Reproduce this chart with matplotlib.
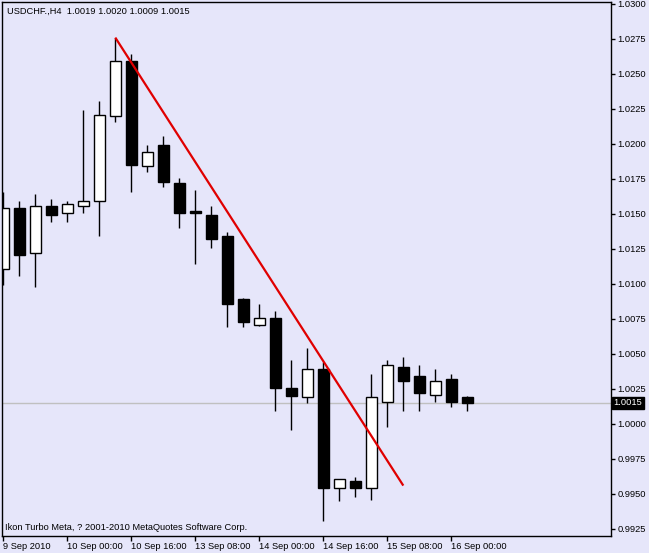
import matplotlib
matplotlib.use('Agg')
import matplotlib.pyplot as plt
import matplotlib.transforms as mtransforms
import numpy as np

# USDCHF H4 candles
opens  = [1.0111, 1.0154, 1.0122, 1.0156, 1.0151, 1.0156, 1.0159, 1.0220, 1.0259, 1.0184,
          1.0199, 1.0172, 1.0152, 1.0149, 1.0134, 1.0089, 1.0071, 1.0076, 1.0026, 1.0019,
          1.0039, 0.9954, 0.9959, 0.9954, 1.0016, 1.0041, 1.0034, 1.0021, 1.0032, 1.0019]
highs  = [1.0166, 1.0159, 1.0164, 1.0161, 1.0159, 1.0224, 1.0231, 1.0276, 1.0264, 1.0199,
          1.0206, 1.0176, 1.0167, 1.0156, 1.0137, 1.0090, 1.0086, 1.0081, 1.0046, 1.0054,
          1.0044, 0.9961, 0.9962, 1.0036, 1.0046, 1.0048, 1.0042, 1.0039, 1.0036, 1.0020]
lows   = [1.0099, 1.0106, 1.0098, 1.0144, 1.0144, 1.0151, 1.0134, 1.0216, 1.0166, 1.0180,
          1.0169, 1.0140, 1.0114, 1.0126, 1.0069, 1.0069, 1.0070, 1.0009, 0.9996, 1.0015,
          0.9931, 0.9945, 0.9948, 0.9946, 0.9998, 1.0009, 1.0009, 1.0016, 1.0012, 1.0009]
closes = [1.0154, 1.0121, 1.0156, 1.0149, 1.0157, 1.0159, 1.0221, 1.0259, 1.0185, 1.0194,
          1.0173, 1.0151, 1.0151, 1.0132, 1.0086, 1.0073, 1.0076, 1.0026, 1.0020, 1.0039,
          0.9954, 0.9961, 0.9954, 1.0019, 1.0042, 1.0031, 1.0022, 1.0031, 1.0016, 1.0015]

# trend line from candle 7 high down to candle 25
trend_x = [7, 25]
trend_y = [1.0276, 0.9956]

time_ticks = [0, 4, 8, 12, 16, 20, 24, 28]
time_labels = ['9 Sep 2010', '10 Sep 00:00', '10 Sep 16:00', '13 Sep 08:00',
               '14 Sep 00:00', '14 Sep 16:00', '15 Sep 08:00', '16 Sep 00:00']

price_ticks = [0.9925, 0.9950, 0.9975, 1.0000, 1.0025, 1.0050, 1.0075, 1.0100,
               1.0125, 1.0150, 1.0175, 1.0200, 1.0225, 1.0250, 1.0275, 1.0300]
last_price = 1.0015

header = 'USDCHF.,H4  1.0019 1.0020 1.0009 1.0015'
footer = 'Ikon Turbo Meta, ? 2001-2010 MetaQuotes Software Corp.'

BG = '#E6E6FA'
W, H = 649, 553

plt.rcParams['font.family'] = ['Liberation Sans', 'DejaVu Sans']
plt.rcParams['font.size'] = 6.7

fig = plt.figure(figsize=(W / 100.0, H / 100.0), dpi=100, facecolor=BG)
# plot box in pixels: x 2..611, y 2..536
ax = fig.add_axes([2.0 / W, (H - 536.0) / H, 609.0 / W, 534.0 / H])
ax.set_facecolor(BG)

x = np.arange(len(opens))
o = np.array(opens)
c = np.array(closes)

# current price line
ax.axhline(last_price, color='#c0c0c0', lw=1, zorder=0)

# wicks then bodies
ax.vlines(x, lows, highs, color='black', lw=1, zorder=1)
body_bottom = np.minimum(o, c)
body_height = np.abs(c - o)
colors = ['white' if cl > op else 'black' for op, cl in zip(opens, closes)]
ax.bar(x, body_height, bottom=body_bottom, width=0.66, color=colors,
       edgecolor='black', linewidth=1, zorder=2)

ax.plot(trend_x, trend_y, color='#e00000', lw=1.6, zorder=3, solid_capstyle='butt')

ax.set_xlim(-0.08, 37.98)
ax.set_ylim(0.9920, 1.03014)

for s in ax.spines.values():
    s.set_color('black')
    s.set_linewidth(1)

ax.yaxis.tick_right()
ax.set_yticks(price_ticks)
ax.set_yticklabels(['%.4f' % p for p in price_ticks])
ax.tick_params(axis='y', direction='out', length=3, width=1, pad=1.5, colors='black')

ax.set_xticks(time_ticks)
ax.set_xticklabels(time_labels)
for lab in ax.get_xticklabels():
    lab.set_ha('left')
ax.tick_params(axis='x', direction='out', length=3.6, width=1, pad=1, colors='black')

# black box with the last price on the price scale
trans = mtransforms.blended_transform_factory(ax.transAxes, ax.transData)
ax.text(1.004, last_price, '%.4f' % last_price, transform=trans, color='white',
        ha='left', va='center', fontsize=6.7,
        bbox=dict(facecolor='black', edgecolor='black', pad=1.2))

fig.text(7.0 / W, 1 - 11.0 / H, header, ha='left', va='center', fontsize=6.7)
fig.text(5.0 / W, 1 - 527.0 / H, footer, ha='left', va='center', fontsize=6.7)

fig.savefig('out.png', dpi=100, facecolor=BG)
